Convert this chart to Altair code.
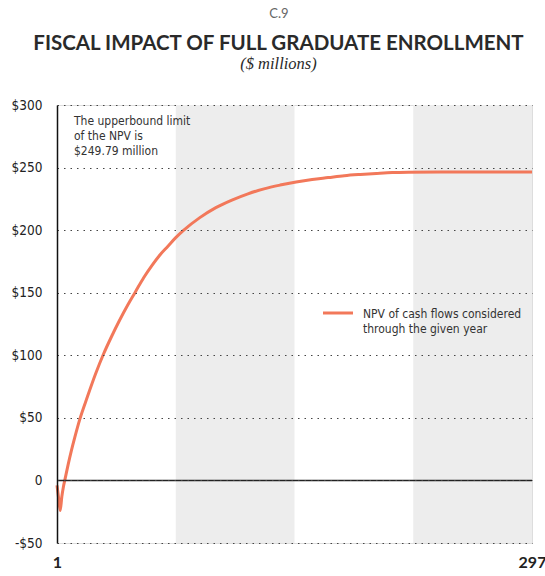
import altair as alt
import pandas as pd

# ---- data ----
years = [1, 2, 3, 4, 5, 6, 8, 10, 12, 15, 20, 25, 30, 35, 40, 45, 50, 55, 60, 65,
         70, 75, 80, 90, 100, 110, 120, 130, 140, 150, 160, 170, 180, 190, 200,
         210, 220, 240, 260, 280, 297]
npv = [-4, -14, -24, -13, -5, 1, 13, 24, 34, 48, 67, 85, 101, 115, 128, 140, 151,
       162, 171.5, 180, 187, 194, 200, 210, 218, 224, 229, 233, 236, 238.5, 240.5,
       242, 243.5, 244.5, 245.3, 246, 246.3, 246.5, 246.5, 246.5, 246.5]
band_start = [75, 223]
band_end = [149, 297]
y_ticks = [-50, 0, 50, 100, 150, 200, 250, 300]
x_ticks = [1, 297]

series_name = "NPV of cash flows considered through the given year"
note_lines = ["The upperbound limit", "of the NPV is", "$249.79 million"]
legend_lines = ["NPV of cash flows considered", "through the given year"]

line_df = pd.DataFrame({"year": years, "npv": npv})
band_df = pd.DataFrame({"start": band_start, "end": band_end})

W, H = 475, 438
SANS = "Liberation Sans Narrow, DejaVu Sans Condensed, sans-serif"
SERIF = "Liberation Serif, DejaVu Serif, serif"
LINE_COLOR = "#F2785A"

xscale = alt.Scale(domain=[1, 297], nice=False, zero=False)
yscale = alt.Scale(domain=[-50, 300], nice=False)

bands = alt.Chart(band_df).mark_rect(color="#EDEDED").encode(
    x=alt.X("start:Q", scale=xscale,
            axis=alt.Axis(values=x_ticks, title=None, grid=False, domain=False,
                          ticks=False, labelFontSize=16, labelFontWeight="bold",
                          labelColor="#222", labelFont="Lato", labelFlush=False,
                          labelPadding=11)),
    x2="end:Q",
    y=alt.value(0),
    y2=alt.value(H),
)

line = alt.Chart(line_df).mark_line(
    color=LINE_COLOR, strokeWidth=3, interpolate="monotone"
).encode(
    x=alt.X("year:Q", scale=xscale),
    y=alt.Y("npv:Q", scale=yscale,
            axis=alt.Axis(values=y_ticks, title=None, grid=True, gridDash=[1.5, 5],
                          gridColor="#444", gridWidth=1, domain=True,
                          domainColor="#111", domainWidth=1.5, ticks=False,
                          labelFontSize=13.5, labelColor="#222", labelFont=SANS,
                          labelPadding=15, zindex=1,
                          labelExpr="datum.value == 0 ? '0' : (datum.value < 0 ? '-$' + abs(datum.value) : '$' + datum.value)")),
)

zero = alt.Chart(pd.DataFrame({"v": [0]})).mark_rule(color="#222", strokeWidth=1.5).encode(
    y=alt.Y("v:Q", scale=yscale)
)

note = alt.Chart(pd.DataFrame({"t": [note_lines]})).mark_text(
    align="left", baseline="alphabetic", font=SANS, fontSize=12, color="#333",
    lineHeight=15
).encode(text="t", x=alt.value(17), y=alt.value(20))

legend_swatch = alt.Chart(pd.DataFrame({"s": [series_name]})).mark_rule(
    color=LINE_COLOR, strokeWidth=3
).encode(x=alt.value(266), x2=alt.value(296), y=alt.value(208))

legend_text = alt.Chart(pd.DataFrame({"t": [legend_lines]})).mark_text(
    align="left", baseline="alphabetic", font=SANS, fontSize=12, color="#333",
    lineHeight=15
).encode(text="t", x=alt.value(306), y=alt.value(213))

label = alt.Chart(pd.DataFrame({"t": ["C.9"]})).mark_text(
    align="center", baseline="top", font="Lato", fontSize=13, color="#666"
).encode(text="t", x=alt.value(222), y=alt.value(-97))

chart = alt.layer(bands, line, zero, note, legend_swatch, legend_text, label).properties(
    width=W, height=H,
    title=alt.TitleParams(
        text="FISCAL IMPACT OF FULL GRADUATE ENROLLMENT",
        subtitle="($ millions)",
        font="Lato", fontSize=20.5, fontWeight="bold", color="#2a2a2a",
        subtitleFont=SERIF, subtitleFontSize=16.5,
        subtitleFontStyle="italic", subtitleColor="#2a2a2a", subtitlePadding=1,
        anchor="middle", dx=-16, offset=-64,
    ),
    autosize=alt.AutoSizeParams(type="none"),
    padding={"left": 57, "top": 105, "right": 13, "bottom": 33},
).configure_view(stroke=None).configure(background="white")

chart.save("out.html", embed_options={"renderer": "svg", "actions": False})
